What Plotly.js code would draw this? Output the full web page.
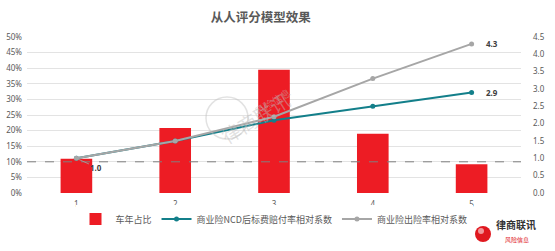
<!DOCTYPE html>
<html><head><meta charset="utf-8">
<script src="https://cdn.plot.ly/plotly-3.0.1.min.js"></script>
<style>html,body{margin:0;padding:0;background:#fff}#c{width:555px;height:251px}</style>
</head><body><div id="c"></div>
<script>
const categories = ['1','2','3','4','5'];
const shareValues = [0.110, 0.208, 0.395, 0.190, 0.092];
const ncdLossRatio = [1.0, 1.5, 2.1, 2.5, 2.9];
const claimFreq = [1.0, 1.5, 2.2, 3.3, 4.3];
const leftTicks = [0,0.05,0.10,0.15,0.20,0.25,0.30,0.35,0.40,0.45,0.50];
const rightTicks = [0,0.5,1,1.5,2,2.5,3,3.5,4,4.5];
const seriesNames = ['车年占比','商业险NCD后标费赔付率相对系数','商业险出险率相对系数'];

const F = 'Noto Sans, Noto Sans CJK SC, sans-serif';
const traces = [
  {type:'bar', x:categories, y:shareValues, name:seriesNames[0], marker:{color:'#ED1C24'}, width:0.32, yaxis:'y'},
  {type:'scatter', mode:'lines+markers', x:categories, y:ncdLossRatio, name:seriesNames[1], yaxis:'y2',
   line:{color:'#137F8A', width:2}, marker:{color:'#137F8A', size:5}},
  {type:'scatter', mode:'lines+markers', x:categories, y:claimFreq, name:seriesNames[2], yaxis:'y2',
   line:{color:'#A6A6A6', width:2}, marker:{color:'#A6A6A6', size:5}}
];
const layout = {
  width:555, height:251,
  margin:{l:27, r:34, t:37, b:58},
  paper_bgcolor:'#fff', plot_bgcolor:'#fff',
  font:{family:F, color:'#595959', size:8},
  title:{text:'<b>从人评分模型效果</b>', x:0.47, xanchor:'center', y:0.93, yanchor:'middle', font:{size:12.5, color:'#595959', family:'Noto Sans CJK SC'}},
  xaxis:{type:'category', range:[-0.5,4.5], autorange:false, automargin:false, showgrid:false, zeroline:false, showline:false, ticks:'', tickfont:{size:8, color:'#595959'}, ticklabelstandoff:5},
  yaxis:{range:[0,0.5], autorange:false, automargin:false, tickvals:leftTicks, tickformat:'.0%', showgrid:true, gridcolor:'#E3E3E3', gridwidth:1, zeroline:false, showline:false, ticks:'', tickfont:{size:8, color:'#595959'}, ticklabelstandoff:4},
  yaxis2:{range:[0,4.5], autorange:false, automargin:false, tickvals:rightTicks, tickformat:'.1f', overlaying:'y', side:'right', showgrid:false, zeroline:false, showline:false, ticks:'', tickfont:{size:8, color:'#595959'}, ticklabelstandoff:11},
  legend:{orientation:'h', x:0.5, xanchor:'center', xref:'paper', yref:'container', y:(251-219)/251, yanchor:'middle', font:{size:9, color:'#595959', family:'Noto Sans CJK SC'}, itemwidth:30, tracegroupgap:0},
  shapes:[
    {type:'line', xref:'paper', yref:'y', x0:0, x1:1, y0:0.1, y1:0.1, line:{color:'#7F7F7F', width:1, dash:'dash'}},
    {type:'circle', xref:'paper', yref:'paper', x0:(475-27)/494, x1:(491-27)/494, y0:(193-226)/156, y1:(193-242)/156, fillcolor:'#E0181F', line:{width:0}},
    {type:'circle', xref:'paper', yref:'paper', x0:(478-27)/494, x1:(484-27)/494, y0:(193-228)/156, y1:(193-234)/156, fillcolor:'rgba(255,255,255,0.55)', line:{width:0}},
    {type:'circle', xref:'paper', yref:'paper', x0:(206-27)/494, x1:(248-27)/494, y0:(193-97)/156, y1:(193-139)/156, fillcolor:'rgba(0,0,0,0)', line:{color:'rgba(190,190,190,0.45)', width:1.5}}
  ],
  annotations:[
    {x:0, y:1.0, yref:'y2', xref:'x', text:'<b>1.0</b>', showarrow:true, arrowhead:0, arrowwidth:0.8, arrowcolor:'#A6A6A6', ax:20, ay:9, font:{size:8, color:'#404040'}, xanchor:'center'},
    {x:4, y:2.9, yref:'y2', xref:'x', text:'<b>2.9</b>', showarrow:false, xshift:20, font:{size:8, color:'#404040'}},
    {x:4, y:4.3, yref:'y2', xref:'x', text:'<b>4.3</b>', showarrow:false, xshift:20, font:{size:8, color:'#404040'}},
    {xref:'paper', yref:'paper', x:(255-27)/494, y:(193-83)/156, text:'律商联讯', showarrow:false, textangle:-32, font:{size:19, color:'rgba(190,190,190,0.45)', family:'Noto Sans CJK SC'}},
    {xref:'paper', yref:'paper', x:(272-27)/494, y:(193-101)/156, text:'风险信息', showarrow:false, textangle:-32, font:{size:10, color:'rgba(190,190,190,0.45)', family:'Noto Sans CJK SC'}},
    {xref:'paper', yref:'paper', x:(494-27)/494, y:(193-234)/156, xanchor:'left', text:'<b>律商联讯</b>', showarrow:false, font:{size:10, color:'#333333', family:'Noto Sans CJK SC'}},
    {xref:'paper', yref:'paper', x:(503-27)/494, y:(193-246)/156, xanchor:'left', text:'风险信息', showarrow:false, font:{size:6, color:'#E0181F', family:'Noto Sans CJK SC'}}
  ]
};
Plotly.newPlot('c', traces, layout, {displayModeBar:false, staticPlot:true});
</script></body></html>
